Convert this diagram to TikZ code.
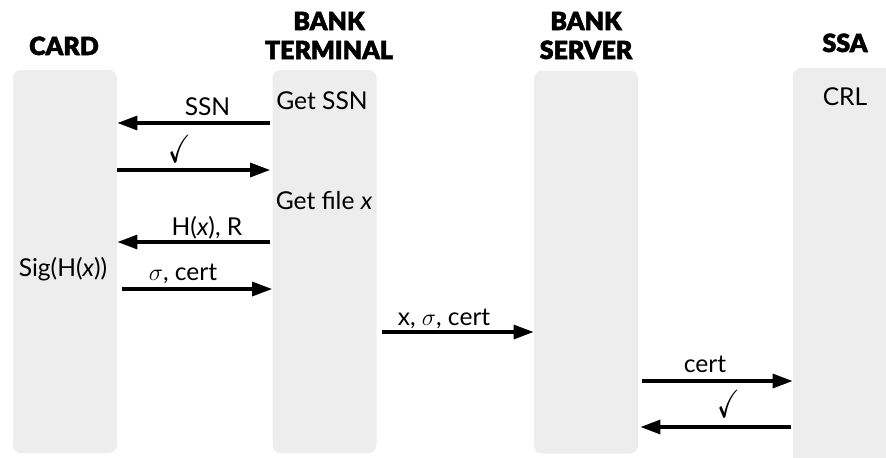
\documentclass[tikz,border=0pt]{standalone}
\usepackage{fontspec}
\setmainfont{Lato}
\newfontfamily\headfont[FakeBold=2]{Lato Black}
\usepackage{amssymb}
\usetikzlibrary{arrows.meta}

\newcommand{\okmark}{\scalebox{1.1}[1.6]{$\checkmark$}}

\begin{document}
\begin{tikzpicture}[
    x=0.5pt, y=-0.5pt,
    carril/.style={fill=black!7, rounded corners=4pt, inner sep=0pt,
                   minimum width=52pt, minimum height=191.5pt},
    titulo/.style={font=\headfont\fontsize{12.5}{14.5}\selectfont, align=center,
                   anchor=base, inner sep=0pt},
    texto/.style={font=\fontsize{12.3}{15}\selectfont, anchor=base, inner sep=0pt},
    flujo/.style={-{Triangle[length=10pt,width=7pt]}, line width=1.6pt}
  ]
  \useasboundingbox (0,0) rectangle (886,457);
  \clip (0,0) rectangle (886,457);

  % lanes
  \node[carril] (card) at (65,261.5) {};
  \node[carril] (term) at (324.5,261.5) {};
  \node[carril] (serv) at (586,262) {};
  \node[carril, minimum height=201pt] (ssa) at (845,269) {};

  \node[titulo] (tcard) at (64,55) {CARD};
  \node[titulo] (tterm) at (329,59) {BANK\\TERMINAL};
  \node[titulo] (tserv) at (586,59) {BANK\\SERVER};
  \node[titulo] (tssa)  at (845,52) {SSA};

  \node[texto] (getssn)  at (322,109) {Get SSN};
  \node[texto] (getfile) at (324,209) {Get file \textit{x}};
  \node[texto] (sig)     at (63,276)  {Sig(H(\textit{x}))};
  \node[texto] (crl)     at (845,105) {CRL};

  % messages
  \draw[flujo] ([xshift=-1pt]term.west |- 0,123) -- (card.east |- 0,123);
  \node[texto] (lssn) at (207.5,115) {SSN};
  \draw[flujo] (card.east |- 0,170) -- ([xshift=-1pt]term.west |- 0,170);
  \node[texto] (lok1) at (179.5,162) {\okmark};
  \draw[flujo] ([xshift=-1pt]term.west |- 0,242) -- (card.east |- 0,242);
  \node[texto] (lhash) at (207,235) {H(\textit{x}), R};
  \draw[flujo] ([xshift=2.5pt]card.east |- 0,289) -- (term.west |- 0,289);
  \node[texto] (lsig) at (183,280) {$\sigma$, cert};
  \draw[flujo] ([xshift=2.5pt]term.east |- 0,332) -- (serv.west |- 0,332);
  \node[texto] (lfile) at (444,325) {x, $\sigma$, cert};
  \draw[flujo] ([xshift=2pt]serv.east |- 0,381) -- (ssa.west |- 0,381);
  \node[texto] (lcert) at (705,372) {cert};
  \draw[flujo] ([xshift=-1pt]ssa.west |- 0,427) -- ([xshift=1pt]serv.east |- 0,427);
  \node[texto] (lok2) at (728.5,417) {\okmark};
\end{tikzpicture}
\end{document}
